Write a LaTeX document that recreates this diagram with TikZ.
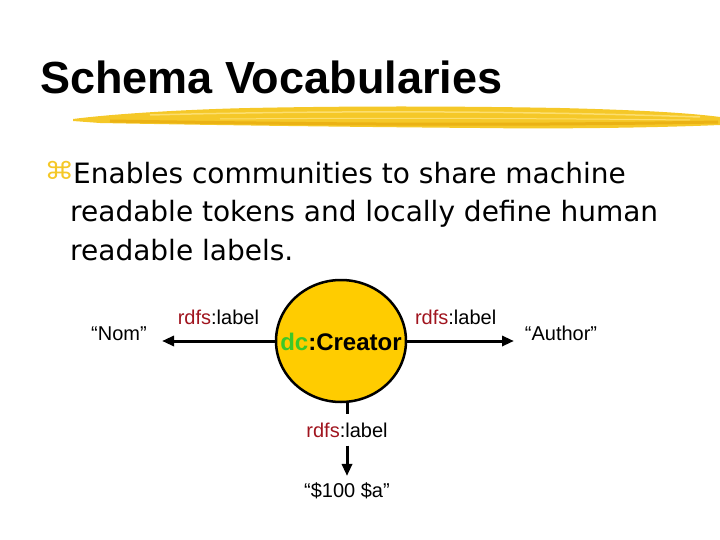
\documentclass[tikz,border=0pt]{standalone}
\usepackage{fontspec}
\setmainfont{Liberation Sans}
\newfontfamily\bodyfont{DejaVu Sans}
\usepackage{tikz}
\usetikzlibrary{arrows.meta}
\usetikzlibrary{shapes.geometric}
\definecolor{gold}{RGB}{255,204,0}
\definecolor{brushyellow}{RGB}{245,200,40}
\definecolor{brushdark}{RGB}{235,178,20}
\definecolor{brushlight}{RGB}{252,222,110}
\definecolor{rdfsred}{RGB}{160,20,30}
\definecolor{dcgreen}{RGB}{60,200,40}
\newcommand{\rdfslabel}{\textcolor{rdfsred}{rdfs}:label}

\begin{document}
\begin{tikzpicture}[x=1pt, y=-1pt,
    conn/.style={line width=3pt},
    arr/.style={line width=3pt, -{Triangle[length=12pt,width=10pt]}},
    small/.style={font=\fontsize{20}{24}\selectfont, inner sep=0pt},
    body/.style={font=\bodyfont\fontsize{28}{33}\selectfont, anchor=base west, inner sep=0pt}]
    \useasboundingbox (0,0) rectangle (720,540);
    \node[anchor=base west, inner sep=0pt, font=\bfseries\fontsize{45}{54}\selectfont] (title) at (40,94) {Schema Vocabularies};
    \fill[brushyellow] (73,119) .. controls (120,113) and (200,109) .. (250,108) .. controls (350,106) and (450,106) .. (560,108) .. controls (640,110) and (690,113) .. (720,117) -- (720,125) .. controls (650,128) and (550,129) .. (480,128) .. controls (350,127) and (200,125) .. (100,123) -- (73,121) -- cycle;
    \draw[brushdark, line width=3pt] (110,121) .. controls (300,124) and (500,126) .. (718,122);
    \draw[brushlight, line width=1.5pt] (150,115) .. controls (300,111) and (500,110) .. (700,117);
    \draw[brushlight, line width=1pt] (220,119) .. controls (350,118) and (500,118) .. (690,120);
    \node[anchor=base west, inner sep=0pt, text=brushyellow, font=\bodyfont\fontsize{24}{28}\selectfont, xscale=1.25] (bullet) at (44,180) {⌘};
    \node[body] (line1) at (73,184) {Enables communities to share machine};
    \node[body] (line2) at (70,222) {readable tokens and locally define human};
    \node[body] (line3) at (70,260) {readable labels.};
    \node[ellipse, draw, line width=2.5pt, fill=gold, minimum width=130pt, minimum height=122pt] (circ) at (341,341) {};
    \node[font=\bfseries\fontsize{24}{28}\selectfont, inner sep=0pt] (creator) at (341,342) {\textcolor{dcgreen}{dc}:Creator};
    \node[small, anchor=base] (nom) at (119,340) {“Nom”};
    \node[small, anchor=base] (auth) at (561,340) {“Author”};
    \node[small, inner ysep=8pt] (lbl3) at (347,430) {\rdfslabel};
    \node[small, anchor=base, inner ysep=6pt] (dol) at (347,497) {“\$100 \$a”};
    \draw[arr] (circ.west) -- (circ.west -| 162,0) node[small, midway, anchor=base, yshift=17pt] (lbl1) {\rdfslabel};
    \draw[arr] (circ.east) -- (circ.east -| 514,0) node[small, midway, anchor=base, yshift=17pt, xshift=-5pt] (lbl2) {\rdfslabel};
    \draw[conn] (circ.south -| lbl3) -- (lbl3.north);
    \draw[arr] (lbl3.south) -- (lbl3.south |- dol.north);
\end{tikzpicture}
\end{document}
